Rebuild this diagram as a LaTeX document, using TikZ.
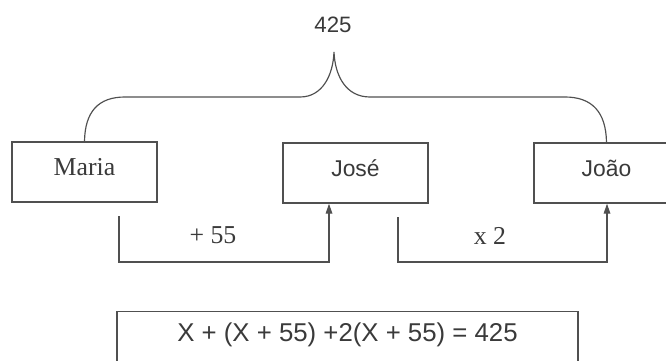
\documentclass[tikz,border=0pt]{standalone}
\usepackage{fontspec}
\setmainfont{Liberation Serif}
\newfontfamily\eqfont{Liberation Sans}
\usetikzlibrary{arrows.meta}
\definecolor{inkgray}{HTML}{3A3A3A}
\definecolor{linegray}{HTML}{505050}

\begin{document}
\begin{tikzpicture}[x=0.03cm, y=-0.03cm,
  >={Triangle[length=3mm, width=2mm]},
  namebox/.style={draw=linegray, line width=1.2pt, fill=white, text=inkgray,
    minimum width=4.35cm, minimum height=1.8cm, inner sep=0pt,
    text height=0.54cm, text depth=0.36cm},
  flow/.style={draw=linegray, line width=1pt, ->},
  oplabel/.style={text=inkgray, font=\fontsize{22}{26}\selectfont}]

% Frame of the page
\useasboundingbox (0,0) rectangle (666,360);
\clip (0,0) rectangle (666,360);

% Total at the top
\node[text=inkgray, font=\eqfont\fontsize{19}{23}\selectfont] (total) at (333,25) {425};

% ============================================================
% The three people
% ============================================================
\node[namebox, font=\fontsize{22}{26}\selectfont] (maria) at (84.5,172) {Maria};
\node[namebox, font=\eqfont\fontsize{19.5}{23}\selectfont] (jose) at (355.5,173) {José};
\node[namebox, font=\eqfont\fontsize{19.5}{23}\selectfont] (joao) at (606.5,173) {João};

% Brace joining the three boxes under the total
\draw[linegray, line width=1pt] (maria.north)
  .. controls (85,112) and (98,97) .. (125,97) -- (300,97)
  .. controls (322,97) and (333,76) .. (334,52)
  .. controls (335,76) and (346,97) .. (370,97) -- (565,97)
  .. controls (592,97) and (606,112) .. (joao.north);

% ============================================================
% Relations: Maria -> José -> João
% ============================================================
\coordinate (s1) at (119,216);
\coordinate (k1) at (329,262);
\draw[flow] (s1) |- (k1) -- (k1 |- jose.south);
\node[oplabel] (plus) at (213,235) {+ 55};

\coordinate (s2) at (398,217);
\coordinate (k2) at (607,262);
\draw[flow] (s2) |- (k2) -- (k2 |- joao.south);
\node[oplabel] (times) at (490,236) {x 2};

% Equation box at the bottom
\node[draw=linegray, line width=1.2pt, text=inkgray, anchor=north,
  minimum width=13.83cm, inner ysep=0pt, text height=0.9cm, text depth=1cm,
  font=\eqfont\fontsize{22}{26}\selectfont] (eq) at (347.5,311)
  {X + (X + 55) +2(X + 55) = 425};

\end{tikzpicture}
\end{document}
